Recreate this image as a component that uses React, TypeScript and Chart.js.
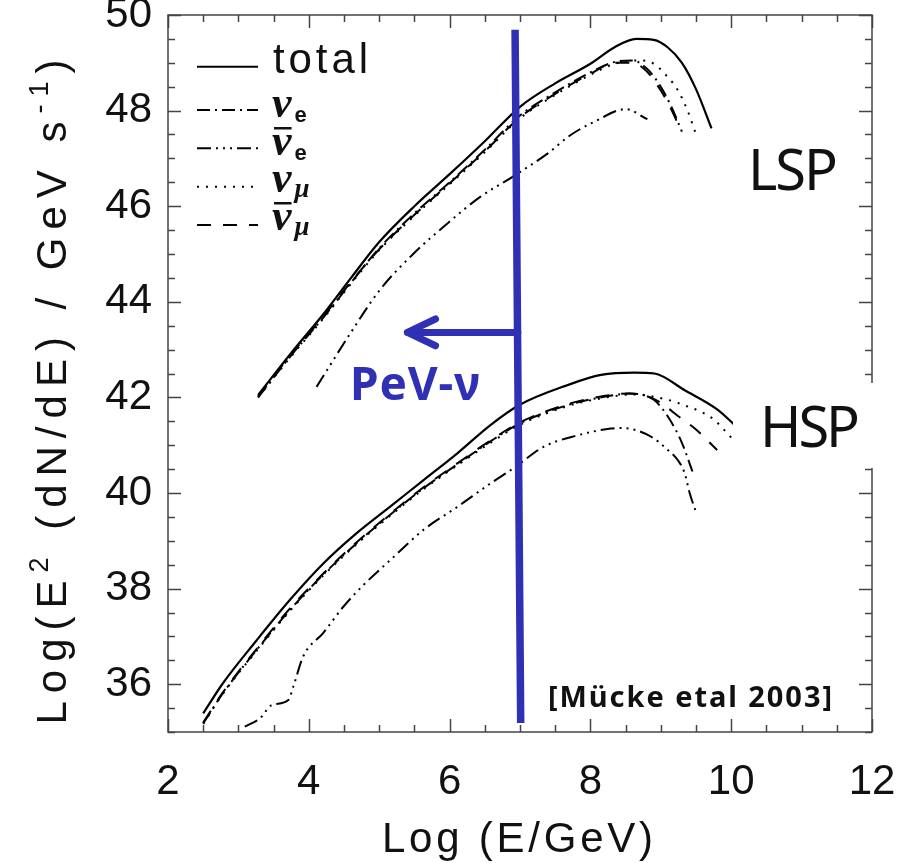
import React, { useEffect, useRef } from 'react';
import { Chart, registerables } from 'chart.js';

Chart.register(...registerables);

// ---------- axes ----------
const X_MIN = 2;
const X_MAX = 12;
const Y_MIN = 35;
const Y_MAX = 50;
const xTickLabels = [2, 4, 6, 8, 10, 12];
const yTickLabels = [36, 38, 40, 42, 44, 46, 48, 50];
const MINOR_STEP = 0.5;

// ---------- LSP curves ----------
const lspTotalX = [3.28, 3.75, 4.2, 4.6, 5.0, 5.5, 6.0, 6.5, 7.0, 7.5, 8.0, 8.35, 8.65, 8.9, 9.1, 9.3, 9.5, 9.72];
const lspTotalY = [42.05, 42.93, 43.73, 44.5, 45.25, 46.0, 46.67, 47.36, 48.08, 48.57, 48.98, 49.33, 49.5, 49.48, 49.32, 49.0, 48.45, 47.63];

const lspNueX = [3.28, 3.75, 4.2, 4.6, 5.0, 5.5, 6.0, 6.5, 7.0, 7.5, 8.0, 8.35, 8.6, 8.8, 9.0, 9.15, 9.3];
const lspNueY = [42.0, 42.88, 43.66, 44.4, 45.12, 45.85, 46.5, 47.18, 47.9, 48.38, 48.8, 49.02, 49.05, 48.88, 48.5, 48.08, 47.56];

const lspNuebarX = [4.11, 4.59, 5.01, 5.49, 5.97, 6.44, 6.9, 7.39, 7.72, 8.06, 8.5, 8.81];
const lspNuebarY = [42.22, 43.34, 44.25, 45.01, 45.64, 46.2, 46.62, 47.1, 47.49, 47.77, 48.03, 47.82];

const lspNumuX = [3.28, 3.75, 4.2, 4.6, 5.0, 5.5, 6.0, 6.5, 7.0, 7.5, 8.0, 8.35, 8.7, 8.9, 9.05, 9.24, 9.38, 9.5];
const lspNumuY = [42.0, 42.86, 43.64, 44.38, 45.08, 45.8, 46.46, 47.13, 47.84, 48.33, 48.75, 48.98, 49.05, 48.98, 48.78, 48.43, 48.0, 47.5];

const lspNumubarX = [3.28, 3.75, 4.2, 4.6, 5.0, 5.5, 6.0, 6.5, 7.0, 7.5, 8.0, 8.35, 8.6, 8.8, 9.0, 9.15, 9.28];
const lspNumubarY = [42.02, 42.9, 43.68, 44.42, 45.1, 45.82, 46.48, 47.15, 47.86, 48.35, 48.77, 49.0, 49.0, 48.82, 48.42, 48.02, 47.6];

// ---------- HSP curves ----------
const hspTotalX = [2.5, 2.78, 3.26, 3.73, 4.21, 4.68, 5.16, 5.63, 6.11, 6.58, 6.99, 7.68, 8.15, 8.62, 8.91, 9.34, 9.81, 10.05];
const hspTotalY = [35.39, 36.02, 36.92, 37.76, 38.53, 39.16, 39.72, 40.27, 40.83, 41.42, 41.84, 42.26, 42.47, 42.52, 42.5, 42.15, 41.74, 41.42];

const hspNueX = [2.5, 2.78, 3.26, 3.73, 4.21, 4.68, 5.16, 5.63, 6.11, 6.58, 6.99, 7.68, 8.15, 8.55, 8.9, 9.1, 9.3, 9.45];
const hspNueY = [35.18, 35.81, 36.72, 37.55, 38.3, 38.95, 39.55, 40.1, 40.6, 41.08, 41.45, 41.84, 42.0, 42.08, 41.95, 41.6, 41.05, 40.45];

const hspNuebarX = [3.09, 3.31, 3.47, 3.71, 3.78, 3.92, 4.21, 4.49, 4.78, 5.16, 5.63, 6.11, 6.58, 6.91, 7.34, 7.8, 8.29, 8.45, 8.86, 9.1, 9.24, 9.34, 9.41, 9.5];
const hspNuebarY = [35.11, 35.29, 35.56, 35.67, 35.95, 36.58, 37.08, 37.62, 38.08, 38.6, 39.23, 39.71, 40.2, 40.52, 40.97, 41.2, 41.35, 41.36, 41.18, 40.9, 40.69, 40.41, 40.0, 39.6];

const hspNumuX = [2.5, 2.78, 3.26, 3.73, 4.21, 4.68, 5.16, 5.63, 6.11, 6.58, 6.99, 7.68, 8.15, 8.6, 9.1, 9.38, 9.57, 9.76, 9.9, 10.05];
const hspNumuY = [35.17, 35.8, 36.7, 37.53, 38.28, 38.93, 39.53, 40.08, 40.58, 41.05, 41.42, 41.82, 41.98, 42.06, 41.95, 41.81, 41.7, 41.53, 41.32, 41.08];

const hspNumubarX = [2.5, 2.78, 3.26, 3.73, 4.21, 4.68, 5.16, 5.63, 6.11, 6.58, 6.99, 7.68, 8.15, 8.55, 8.9, 9.3, 9.5, 9.8];
const hspNumubarY = [35.2, 35.83, 36.74, 37.58, 38.32, 38.97, 39.57, 40.12, 40.62, 41.1, 41.47, 41.86, 42.02, 42.08, 41.97, 41.55, 41.33, 40.9];

// ---------- annotations (data coordinates) ----------
const cutLineX = [6.93, 7.01];
const cutLineY = [49.69, 35.19];
const arrowY = 43.36;
const arrowFromX = 6.97;
const arrowTipX = 5.4;
const arrowHeadX = 5.8;
const arrowHeadDY = 0.28;

// ---------- styles ----------
const BLUE = '#3030b4';
const INK = '#111';
const DASH_TOTAL: number[] = [];
const DASH_NUE = [13, 5, 2, 5];
const DASH_NUEBAR = [14, 5, 2, 5, 2, 5, 2, 5];
const DASH_NUMU = [2, 7];
const DASH_NUMUBAR = [14, 12];
const AXIS_FONT = '"Liberation Sans", Arial, Helvetica, sans-serif';

const zip = (xs: number[], ys: number[]) => xs.map((x, i) => ({ x, y: ys[i] }));

function fitText(ctx: CanvasRenderingContext2D, text: string, x: number, y: number, width: number) {
  (ctx as any).letterSpacing = '0px';
  const m = ctx.measureText(text).width;
  const n = Array.from(text).length;
  const sp = n > 1 ? (width - m) / (n - 1) : 0;
  (ctx as any).letterSpacing = sp + 'px';
  ctx.fillText(text, x, y);
  (ctx as any).letterSpacing = '0px';
}

function drawNu(ctx: CanvasRenderingContext2D, x: number, base: number, sub: string, bar: boolean) {
  ctx.font = 'italic bold 44px "Liberation Serif", serif';
  ctx.fillText('ν', x - 1, base);
  const w = ctx.measureText('ν').width;
  if (bar) ctx.fillRect(x + 1, base - 28, w - 2, 2.5);
  ctx.font = sub === 'e' ? 'bold 22px "Liberation Sans", sans-serif' : 'bold italic 27px "Liberation Serif", serif';
  ctx.fillText(sub, x + w + 2, base + 5);
}

const decorPlugin = {
  id: 'decor',
  beforeDatasetsDraw(chart: any) {
    const { ctx, chartArea: a, scales } = chart;
    ctx.save();
    ctx.strokeStyle = '#444';
    ctx.lineWidth = 1.5;
    ctx.strokeRect(a.left, a.top, a.right - a.left, a.bottom - a.top);
    ctx.beginPath();
    for (let v = X_MIN; v <= X_MAX + 1e-9; v += MINOR_STEP) {
      const px = Math.round(scales.x.getPixelForValue(v)) + 0.5;
      const major = Math.abs(v / 2 - Math.round(v / 2)) < 1e-9;
      const len = major ? 13 : 7;
      ctx.moveTo(px, a.bottom); ctx.lineTo(px, a.bottom - len);
      ctx.moveTo(px, a.top); ctx.lineTo(px, a.top + len);
    }
    for (let v = Y_MIN; v <= Y_MAX + 1e-9; v += MINOR_STEP) {
      const py = Math.round(scales.y.getPixelForValue(v)) + 0.5;
      const major = Math.abs(v / 2 - Math.round(v / 2)) < 1e-9;
      const len = major ? 13 : 7;
      ctx.moveTo(a.left, py); ctx.lineTo(a.left + len, py);
      ctx.moveTo(a.right, py); ctx.lineTo(a.right - len, py);
    }
    ctx.stroke();
    ctx.restore();
  },
  afterDatasetsDraw(chart: any) {
    const { ctx, scales } = chart;
    const sx = (v: number) => scales.x.getPixelForValue(v);
    const sy = (v: number) => scales.y.getPixelForValue(v);
    ctx.save();

    // white box behind HSP label
    ctx.fillStyle = '#fff';
    ctx.fillRect(733, 383, 168, 85);

    ctx.fillStyle = INK;
    ctx.textAlign = 'left';
    ctx.textBaseline = 'alphabetic';
    ctx.font = '56px "Noto Sans", sans-serif';
    fitText(ctx, 'LSP', 748, 190, 90);
    fitText(ctx, 'HSP', 760, 447, 100);

    // arrow
    ctx.strokeStyle = BLUE;
    ctx.lineWidth = 7;
    ctx.lineCap = 'round';
    ctx.lineJoin = 'round';
    ctx.beginPath();
    ctx.moveTo(sx(arrowFromX), sy(arrowY));
    ctx.lineTo(sx(arrowTipX), sy(arrowY));
    ctx.moveTo(sx(arrowHeadX), sy(arrowY + arrowHeadDY));
    ctx.lineTo(sx(arrowTipX), sy(arrowY));
    ctx.lineTo(sx(arrowHeadX), sy(arrowY - arrowHeadDY));
    ctx.stroke();

    ctx.fillStyle = BLUE;
    ctx.font = 'bold 46px "Noto Sans", sans-serif';
    fitText(ctx, 'PeV-ν', 350, 400, 130);

    ctx.fillStyle = INK;
    ctx.font = 'bold 29px "Noto Sans", sans-serif';
    fitText(ctx, '[Mücke etal 2003]', 548, 707, 284);

    // legend
    ctx.strokeStyle = '#000';
    ctx.lineWidth = 2;
    ctx.lineCap = 'butt';
    const rows = [
      { dash: DASH_TOTAL, y: 66.7 },
      { dash: DASH_NUE, y: 110 },
      { dash: DASH_NUEBAR, y: 148.3 },
      { dash: DASH_NUMU, y: 186.7 },
      { dash: DASH_NUMUBAR, y: 225 },
    ];
    rows.forEach((r) => {
      ctx.setLineDash(r.dash);
      ctx.beginPath();
      ctx.moveTo(197, r.y);
      ctx.lineTo(258, r.y);
      ctx.stroke();
    });
    ctx.setLineDash([]);
    ctx.fillStyle = INK;
    ctx.font = '42px ' + AXIS_FONT;
    fitText(ctx, 'total', 273, 72.5, 95);
    drawNu(ctx, 273, 117, 'e', false);
    drawNu(ctx, 273, 155, 'e', true);
    drawNu(ctx, 273, 192, 'μ', false);
    drawNu(ctx, 273, 230, 'μ', true);

    // x title
    ctx.font = '42px ' + AXIS_FONT;
    fitText(ctx, 'Log (E/GeV)', 382, 852, 271);

    // y title (rotated)
    const segs = [
      { t: 'Log(E', size: 42, raise: 0 },
      { t: '2', size: 27, raise: 18 },
      { t: ' (dN/dE) / GeV s', size: 42, raise: 0 },
      { t: '-1', size: 27, raise: 18 },
      { t: ')', size: 42, raise: 0 },
    ];
    let natural = 0;
    let nChars = 0;
    (ctx as any).letterSpacing = '0px';
    segs.forEach((s) => {
      ctx.font = s.size + 'px ' + AXIS_FONT;
      natural += ctx.measureText(s.t).width;
      nChars += Array.from(s.t).length;
    });
    const targetW = 665;
    const sp = (targetW - natural) / (nChars - 1);
    ctx.translate(66, 392);
    ctx.rotate(-Math.PI / 2);
    let cx = -targetW / 2;
    (ctx as any).letterSpacing = sp + 'px';
    segs.forEach((s) => {
      ctx.font = s.size + 'px ' + AXIS_FONT;
      ctx.fillText(s.t, cx, -s.raise);
      cx += ctx.measureText(s.t).width;
    });
    (ctx as any).letterSpacing = '0px';
    ctx.restore();
  },
};

function line(data: { x: number; y: number }[], dash: number[], width = 2, color = '#000', order = 1) {
  return {
    data,
    borderColor: color,
    borderWidth: width,
    borderDash: dash,
    pointRadius: 0,
    fill: false,
    cubicInterpolationMode: 'monotone' as const,
    order,
  };
}

export default function App() {
  const ref = useRef<HTMLCanvasElement | null>(null);
  useEffect(() => {
    document.body.style.margin = '0';
    document.body.style.overflow = 'hidden';
    const canvas = ref.current!;
    const chart = new Chart(canvas, {
      type: 'line',
      data: {
        datasets: [
          { ...line(zip(cutLineX, cutLineY), [], 7.5, BLUE, -1), tension: 0 } as any,
          line(zip(lspTotalX, lspTotalY), DASH_TOTAL, 2.2),
          line(zip(lspNueX, lspNueY), DASH_NUE),
          line(zip(lspNuebarX, lspNuebarY), DASH_NUEBAR),
          line(zip(lspNumuX, lspNumuY), DASH_NUMU),
          line(zip(lspNumubarX, lspNumubarY), DASH_NUMUBAR),
          line(zip(hspTotalX, hspTotalY), DASH_TOTAL, 2.2),
          line(zip(hspNueX, hspNueY), DASH_NUE),
          line(zip(hspNuebarX, hspNuebarY), DASH_NUEBAR),
          line(zip(hspNumuX, hspNumuY), DASH_NUMU),
          line(zip(hspNumubarX, hspNumubarY), DASH_NUMUBAR),
        ],
      },
      options: {
        animation: false,
        responsive: false,
        maintainAspectRatio: false,
        devicePixelRatio: 1,
        layout: { padding: { top: 15, right: 29, left: 0, bottom: 0 } },
        plugins: { legend: { display: false }, tooltip: { enabled: false } },
        scales: {
          x: {
            type: 'linear',
            min: X_MIN,
            max: X_MAX,
            grid: { display: false, drawTicks: false },
            border: { display: false },
            ticks: {
              font: { family: AXIS_FONT, size: 42 },
              color: INK,
              padding: 25,
              maxRotation: 0,
              autoSkip: false,
              callback: (v: any) => String(v),
            },
            afterBuildTicks: (s: any) => {
              s.ticks = xTickLabels.map((v) => ({ value: v }));
            },
            afterFit: (s: any) => {
              s.height = 131;
              s.paddingLeft = 0;
              s.paddingRight = 0;
            },
          },
          y: {
            type: 'linear',
            min: Y_MIN,
            max: Y_MAX,
            grid: { display: false, drawTicks: false },
            border: { display: false },
            ticks: {
              font: { family: AXIS_FONT, size: 42 },
              color: INK,
              padding: 16,
              autoSkip: false,
              callback: (v: any) => String(v),
            },
            afterBuildTicks: (s: any) => {
              s.ticks = yTickLabels.map((v) => ({ value: v }));
            },
            afterFit: (s: any) => {
              s.width = 168;
              s.paddingTop = 0;
              s.paddingBottom = 0;
            },
          },
        },
      } as any,
      plugins: [decorPlugin],
    });
    return () => chart.destroy();
  }, []);
  return <canvas ref={ref} width={901} height={863} style={{ display: 'block' }} />;
}
